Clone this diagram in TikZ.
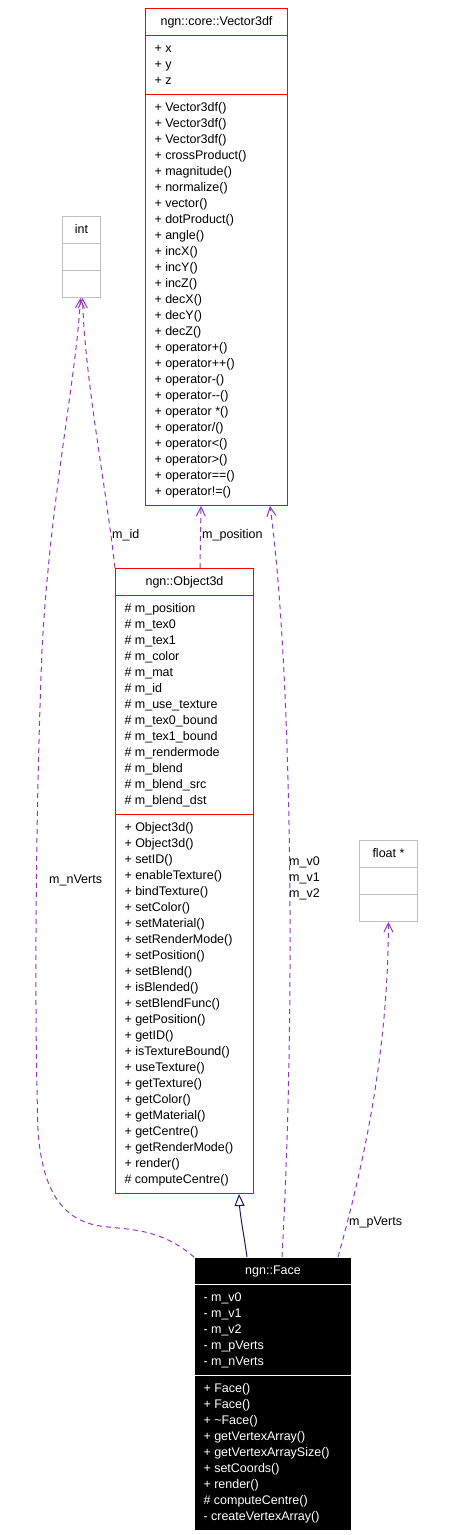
\documentclass[tikz,border=0pt]{standalone}
\usepackage{fontspec}
\setmainfont{Liberation Sans}
\usetikzlibrary{shapes.multipart, arrows.meta}
\definecolor{usepurple}{HTML}{9A32CD}
\definecolor{inheritblue}{HTML}{191970}
\definecolor{builtingrey}{HTML}{BFBFBF}
\newcommand{\classfont}{\fontsize{12.5}{16}\selectfont}
\tikzstyle{classbox} = [
  rectangle split,
  rectangle split parts=3,
  rectangle split part align={center,left,left},
  align=left,
  anchor=north west,
  inner xsep=9pt,
  inner ysep=5pt,
  line width=1pt,
  draw=red,
  font=\classfont
]
\tikzstyle{builtin} = [classbox, draw=builtingrey]
\tikzstyle{current} = [classbox, draw=white, fill=black, text=white]
\tikzstyle{uses} = [usepurple, line width=1pt, dash pattern=on 5pt off 4pt, -{Straight Barb[length=9pt,width=9pt]}]
\tikzstyle{inherits} = [inheritblue, line width=1pt, -{Triangle[open,length=12pt,width=10pt,fill=white]}]
\tikzstyle{edgelabel} = [anchor=west, inner sep=0pt, align=left, font=\classfont]

\begin{document}
\begin{tikzpicture}[x=1pt, y=-1pt]
    \useasboundingbox (0,0) rectangle (452,1535);

    \node (vector) [classbox, minimum width=142pt] at (145,8) {\strut ngn::core::Vector3df
      \nodepart{two}\strut + x\\+ y\\+ z\strut
      \nodepart{three}\strut + Vector3df()\\+ Vector3df()\\+ Vector3df()\\+ crossProduct()\\+ magnitude()\\+ normalize()\\+ vector()\\+ dotProduct()\\+ angle()\\+ incX()\\+ incY()\\+ incZ()\\+ decX()\\+ decY()\\+ decZ()\\+ operator+()\\+ operator++()\\+ operator-()\\+ operator-{}-()\\+ operator *()\\+ operator/()\\+ operator<()\\+ operator>()\\+ operator==()\\+ operator!=()\strut};
    \node (int) [builtin, minimum width=38pt] at (62,216) {\strut int \nodepart{two}\strut \nodepart{three}\strut};
    \node (object) [classbox, minimum width=138pt] at (115,568) {\strut ngn::Object3d
      \nodepart{two}\strut\# m\_position\\\# m\_tex0\\\# m\_tex1\\\# m\_color\\\# m\_mat\\\# m\_id\\\# m\_use\_texture\\\# m\_tex0\_bound\\\# m\_tex1\_bound\\\# m\_rendermode\\\# m\_blend\\\# m\_blend\_src\\\# m\_blend\_dst\strut
      \nodepart{three}\strut + Object3d()\\+ Object3d()\\+ setID()\\+ enableTexture()\\+ bindTexture()\\+ setColor()\\+ setMaterial()\\+ setRenderMode()\\+ setPosition()\\+ setBlend()\\+ isBlended()\\+ setBlendFunc()\\+ getPosition()\\+ getID()\\+ isTextureBound()\\+ useTexture()\\+ getTexture()\\+ getColor()\\+ getMaterial()\\+ getCentre()\\+ getRenderMode()\\+ render()\\\# computeCentre()\strut};
    \node (float) [builtin, minimum width=58pt] at (359,840) {\strut float * \nodepart{two}\strut \nodepart{three}\strut};
    \node (face) [current, minimum width=157pt] at (194,1257) {\strut ngn::Face
      \nodepart{two}\strut - m\_v0\\- m\_v1\\- m\_v2\\- m\_pVerts\\- m\_nVerts\strut
      \nodepart{three}\strut + Face()\\+ Face()\\+ \textasciitilde{}Face()\\+ getVertexArray()\\+ getVertexArraySize()\\+ setCoords()\\+ render()\\\# computeCentre()\\- createVertexArray()\strut};

    \node (label-nverts) [edgelabel] at (49,880) {m\_nVerts};
    \node (label-id) [edgelabel] at (112,535) {m\_id};
    \node (label-position) [edgelabel] at (202,535) {m\_position};
    \node (label-verts) [edgelabel] at (289,878) {m\_v0\\m\_v1\\m\_v2};
    \node (label-pverts) [edgelabel] at (349,1222) {m\_pVerts};

    \draw [inherits] ([xshift=53]face.north west) .. controls (244,1235) and (240,1215) .. ([xshift=124]object.south west);
    \draw [uses] (face.north west) .. controls (160,1228) and (130,1230) .. (100,1226)
      .. controls (62,1220) and (42,1190) .. (38,1130)
      .. controls (34,1000) and (36,800) .. (42,650)
      .. controls (50,500) and (76,380) .. ([xshift=-1]int.south);
    \draw [uses] (object.north west) .. controls (105,480) and (85,380) .. ([xshift=1]int.south);
    \draw [uses] ([xshift=85]object.north west) -- ([xshift=56]vector.south west);
    \draw [uses] ([xshift=88]face.north west) .. controls (297,980) and (290,650) .. ([xshift=125]vector.south west);
    \draw [uses] ([xshift=144]face.north west) .. controls (365,1160) and (388,1050) .. (float.south);
  \end{tikzpicture}
\end{document}
